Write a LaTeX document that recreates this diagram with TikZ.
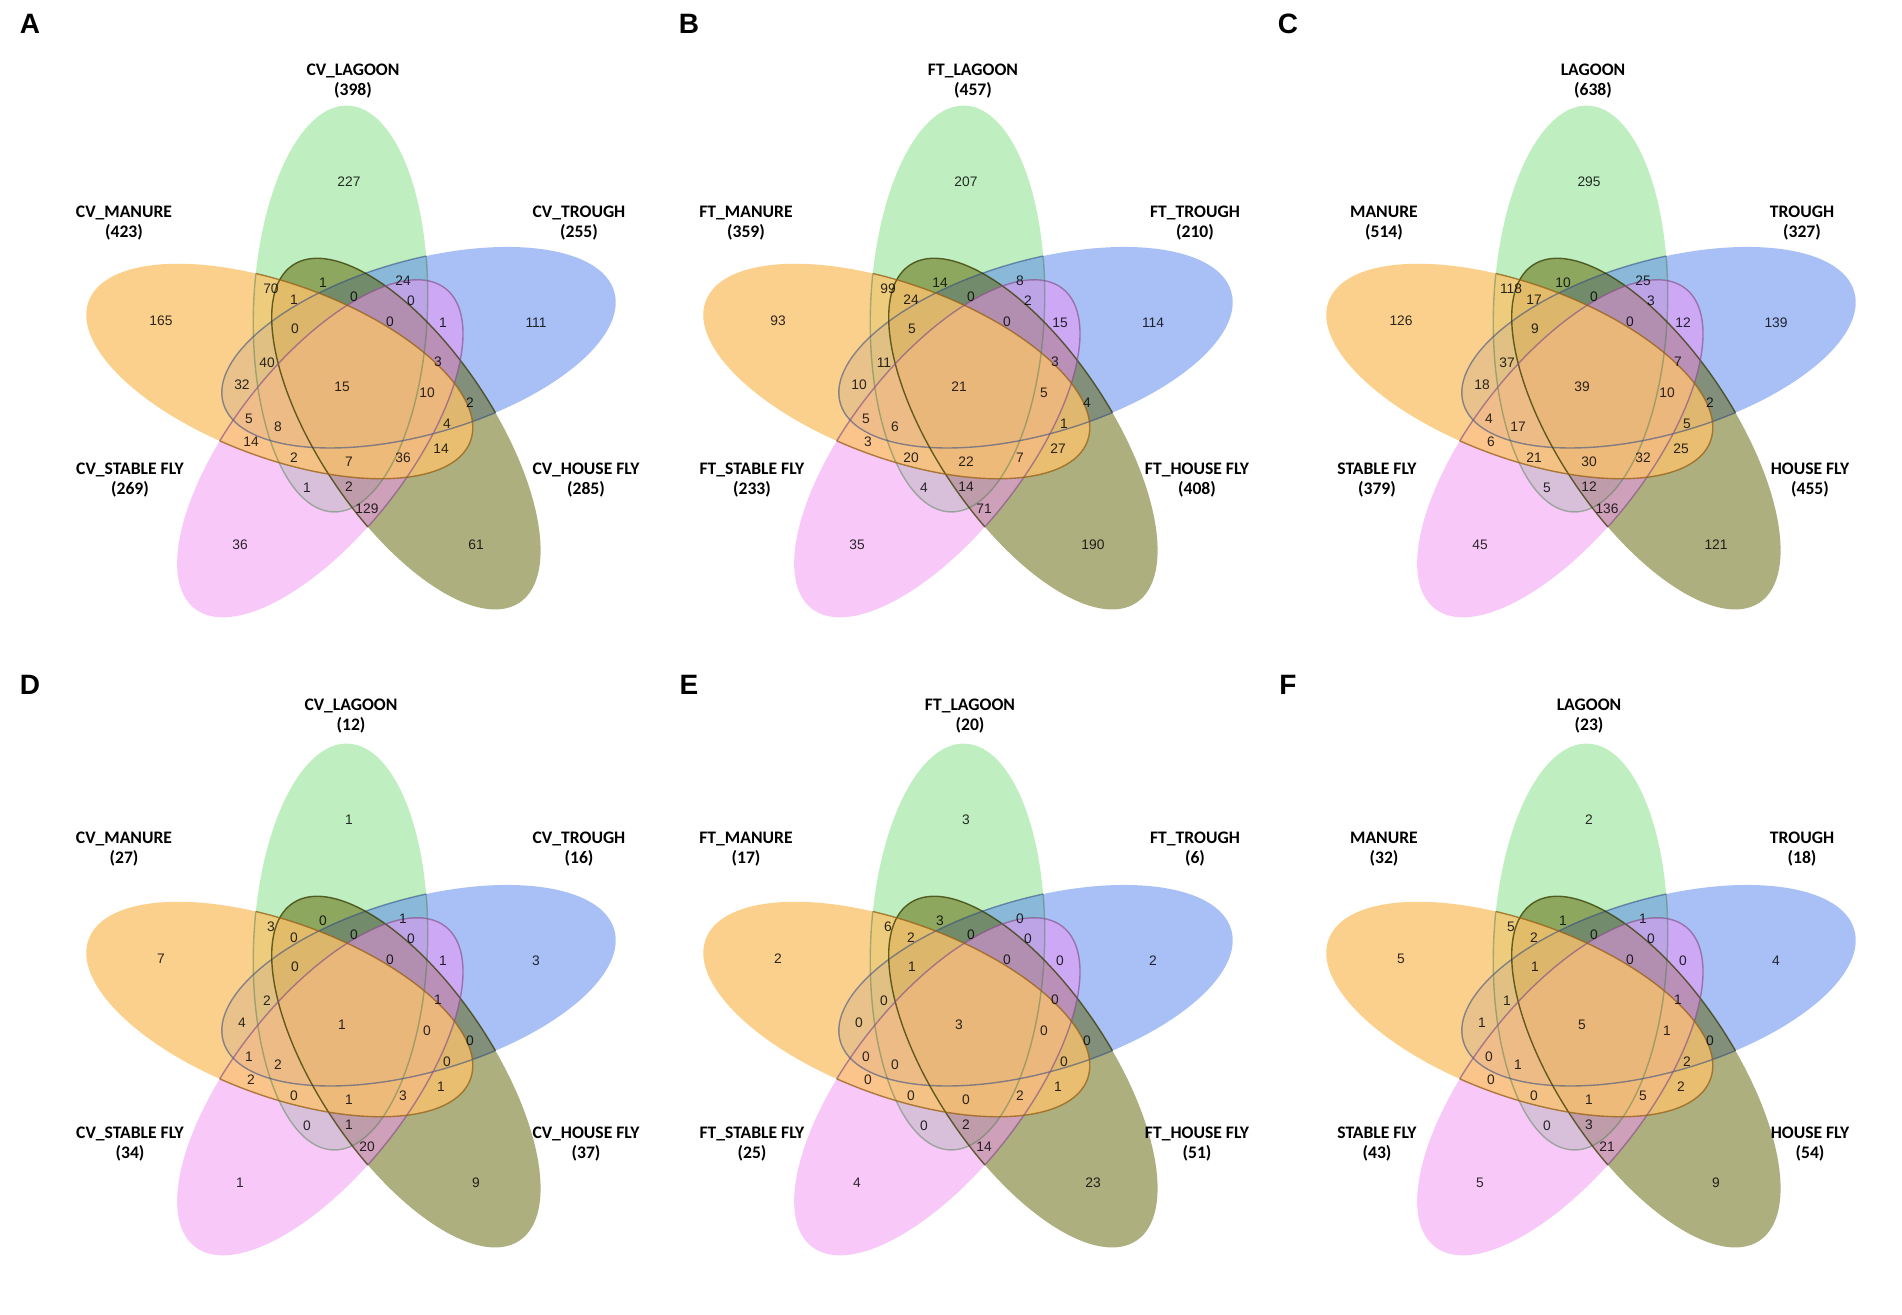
\documentclass[tikz,border=0pt]{standalone}
\usepackage{fontspec}
\setmainfont{Liberation Sans}
\newfontfamily\labfont{Carlito}
\definecolor{vgreen}{RGB}{128,225,130}
\definecolor{vblue}{RGB}{85,130,240}
\definecolor{volive}{RGB}{92,96,0}
\definecolor{vpink}{RGB}{242,146,245}
\definecolor{vorange}{RGB}{251,195,108}
\definecolor{vorangeline}{RGB}{150,95,20}
\newcommand\Egreen{\pgfpathellipse{\pgfpointpolarxy{99.69}{74.26}}{\pgfpointpolarxy{87.9}{203.3}}{\pgfpointpolarxy{-2.1}{87}}}
\newcommand\Eblue{\pgfpathellipse{\pgfpointpolarxy{27.69}{74.26}}{\pgfpointpolarxy{15.9}{203.3}}{\pgfpointpolarxy{-74.1}{87}}}
\newcommand\Eolive{\pgfpathellipse{\pgfpointpolarxy{-44.31}{74.26}}{\pgfpointpolarxy{-56.1}{203.3}}{\pgfpointpolarxy{-146.1}{87}}}
\newcommand\Epink{\pgfpathellipse{\pgfpointpolarxy{243.69}{74.26}}{\pgfpointpolarxy{231.9}{203.3}}{\pgfpointpolarxy{141.9}{87}}}
\newcommand\Eorange{\pgfpathellipse{\pgfpointpolarxy{171.69}{74.26}}{\pgfpointpolarxy{159.9}{203.3}}{\pgfpointpolarxy{69.9}{87}}}
\newcommand\vennfill[3]{\begin{pgfscope}\pgfsetfillcolor{#1}\pgfsetfillopacity{#2}#3\pgfusepath{fill}\end{pgfscope}}
\newcommand\vennline[4]{\begin{pgfscope}#4\pgfusepath{clip}\pgfsetstrokecolor{#1}\pgfsetstrokeopacity{#2}\pgfsetlinewidth{0.7pt}#3\pgfusepath{stroke}\end{pgfscope}}
\newcommand\vennshapes{%
 \vennfill{vgreen}{0.5}{\Egreen}\vennfill{vblue}{0.5}{\Eblue}\vennfill{volive}{0.5}{\Eolive}\vennfill{vpink}{0.5}{\Epink}\vennfill{vorange}{0.78}{\Eorange}%
 \vennline{vgreen!55!black}{0.45}{\Egreen}{\Eblue\Eolive\Epink\Eorange}%
 \vennline{vblue!55!black}{0.55}{\Eblue}{\Egreen\Eolive\Epink\Eorange}%
 \vennline{volive!60!black}{0.75}{\Eolive}{\Egreen\Eblue\Epink\Eorange}%
 \vennline{vpink!55!black}{0.65}{\Epink}{\Egreen\Eblue\Eolive\Eorange}%
 \vennline{vorangeline}{0.75}{\Eorange}{\Egreen\Eblue\Eolive\Epink}}
\newcommand\vennpos{%
 \coordinate (p1) at (-4,200);\coordinate (p2) at (-192,61);\coordinate (p3) at (183,59);
 \coordinate (p4) at (-113,-163);\coordinate (p5) at (123,-163);
 \coordinate (p6) at (-82,93);\coordinate (p7) at (-30,99);\coordinate (p8) at (50,101);
 \coordinate (p9) at (-59,82);\coordinate (p10) at (1,85);\coordinate (p11) at (58,81);
 \coordinate (p12) at (-58,53);\coordinate (p13) at (37,60);\coordinate (p14) at (90,59);
 \coordinate (p15) at (-86,19);\coordinate (p16) at (85,20);
 \coordinate (p17) at (-111,-3);\coordinate (p18) at (-11,-5);\coordinate (p19) at (74,-11);\coordinate (p20) at (117,-21);
 \coordinate (p21) at (-104,-37);\coordinate (p22) at (-75,-45);\coordinate (p23) at (94,-42);
 \coordinate (p24) at (-102,-60);\coordinate (p25) at (88,-67);
 \coordinate (p26) at (-59,-76);\coordinate (p27) at (-4,-80);\coordinate (p28) at (50,-76);
 \coordinate (p29) at (-46,-106);\coordinate (p30) at (-4,-105);\coordinate (p31) at (14,-127);}
\newcommand\vennpanel[3]{%
 \begin{scope}[shift={#2}, name prefix=#1-]
 \vennshapes
 \vennpos
 \foreach \v [count=\i] in {#3} {\node[num] (n\i) at (p\i) {\v};}
 \end{scope}}
\tikzset{
 num/.style={font=\fontsize{6.9}{7}\selectfont, text=black, text opacity=0.82, inner sep=0pt},
 setlab/.style={font=\labfont\bfseries\fontsize{8.8}{10}\selectfont, align=center, inner sep=0pt},
 letter/.style={font=\bfseries\fontsize{14}{16}\selectfont, inner sep=0pt},
}
\begin{document}
\begin{tikzpicture}[x=0.5pt,y=0.5pt]
\fill[white] (0,0) rectangle (1902,1315);
\path[use as bounding box] (0,0) rectangle (1902,1315);
% panels
\vennpanel{A}{(353,933)}{227,165,111,36,61,70,1,24,1,0,0,0,0,1,40,3,32,15,10,2,5,8,4,14,14,2,7,36,1,2,129}
\vennpanel{B}{(970,933)}{207,93,114,35,190,99,14,8,24,0,2,5,0,15,11,3,10,21,5,4,5,6,1,3,27,20,22,7,4,14,71}
\vennpanel{C}{(1593,933)}{295,126,139,45,121,118,10,25,17,0,3,9,0,12,37,7,18,39,10,2,4,17,5,6,25,21,30,32,5,12,136}
\vennpanel{D}{(353,295)}{1,7,3,1,9,3,0,1,0,0,0,0,0,1,2,1,4,1,0,0,1,2,0,2,1,0,1,3,0,1,20}
\vennpanel{E}{(970,295)}{3,2,2,4,23,6,3,0,2,0,0,1,0,0,0,0,0,3,0,0,0,0,0,0,1,0,0,2,0,2,14}
\vennpanel{F}{(1593,295)}{2,5,4,5,9,5,1,1,2,0,0,1,0,0,1,1,1,5,1,0,0,1,2,0,2,0,1,5,0,3,21}
% letters
\node[letter] (LA) at (30,1291) {A};
\node[letter] (LB) at (689,1291) {B};
\node[letter] (LC) at (1288,1291) {C};
\node[letter] (LD) at (30,630) {D};
\node[letter] (LE) at (689,630) {E};
\node[letter] (LF) at (1288,630) {F};
% labels row 1
\node[setlab] (A-lag) at (353,1234) {CV\_LAGOON\\(398)};
\node[setlab] (A-man) at (124,1092) {CV\_MANURE\\(423)};
\node[setlab] (A-tro) at (579,1092) {CV\_TROUGH\\(255)};
\node[setlab] (A-sta) at (130,835) {CV\_STABLE FLY\\(269)};
\node[setlab] (A-hou) at (586,835) {CV\_HOUSE FLY\\(285)};
\node[setlab] (B-lag) at (973,1234) {FT\_LAGOON\\(457)};
\node[setlab] (B-man) at (746,1092) {FT\_MANURE\\(359)};
\node[setlab] (B-tro) at (1195,1092) {FT\_TROUGH\\(210)};
\node[setlab] (B-sta) at (752,835) {FT\_STABLE FLY\\(233)};
\node[setlab] (B-hou) at (1197,835) {FT\_HOUSE FLY\\(408)};
\node[setlab] (C-lag) at (1593,1234) {LAGOON\\(638)};
\node[setlab] (C-man) at (1384,1092) {MANURE\\(514)};
\node[setlab] (C-tro) at (1802,1092) {TROUGH\\(327)};
\node[setlab] (C-sta) at (1377,835) {STABLE FLY\\(379)};
\node[setlab] (C-hou) at (1810,835) {HOUSE FLY\\(455)};
% labels row 2
\node[setlab] (D-lag) at (351,599) {CV\_LAGOON\\(12)};
\node[setlab] (D-man) at (124,466) {CV\_MANURE\\(27)};
\node[setlab] (D-tro) at (579,466) {CV\_TROUGH\\(16)};
\node[setlab] (D-sta) at (130,171) {CV\_STABLE FLY\\(34)};
\node[setlab] (D-hou) at (586,171) {CV\_HOUSE FLY\\(37)};
\node[setlab] (E-lag) at (970,599) {FT\_LAGOON\\(20)};
\node[setlab] (E-man) at (746,466) {FT\_MANURE\\(17)};
\node[setlab] (E-tro) at (1195,466) {FT\_TROUGH\\(6)};
\node[setlab] (E-sta) at (752,171) {FT\_STABLE FLY\\(25)};
\node[setlab] (E-hou) at (1197,171) {FT\_HOUSE FLY\\(51)};
\node[setlab] (F-lag) at (1589,599) {LAGOON\\(23)};
\node[setlab] (F-man) at (1384,466) {MANURE\\(32)};
\node[setlab] (F-tro) at (1802,466) {TROUGH\\(18)};
\node[setlab] (F-sta) at (1377,171) {STABLE FLY\\(43)};
\node[setlab] (F-hou) at (1810,171) {HOUSE FLY\\(54)};
\end{tikzpicture}
\end{document}
